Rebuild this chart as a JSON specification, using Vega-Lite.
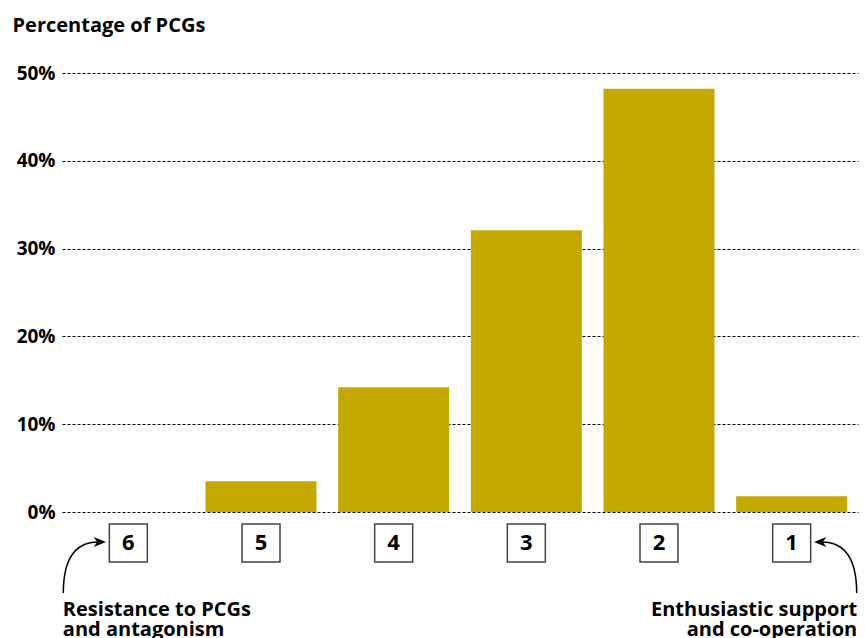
{
  "$schema": "https://vega.github.io/schema/vega-lite/v6.json",
  "width": 796,
  "height": 439,
  "autosize": {"type": "none"},
  "padding": {"left": 62, "top": 73, "right": 7, "bottom": 126},
  "background": "white",
  "config": {"view": {"stroke": null}, "font": "Open Sans"},
  "datasets": {
    "bars": [
      {"cat": "6", "pct": 0},
      {"cat": "5", "pct": 3.5},
      {"cat": "4", "pct": 14.2},
      {"cat": "3", "pct": 32.1},
      {"cat": "2", "pct": 48.2},
      {"cat": "1", "pct": 1.8}
    ],
    "notes": [
      {"cat": "6", "side": "left", "note": "Resistance to PCGs\nand antagonism"},
      {"cat": "1", "side": "right", "note": "Enthusiastic support\nand co-operation"}
    ]
  },
  "resolve": {"scale": {"shape": "independent"}},
  "layer": [
    {
      "data": {"name": "bars"},
      "mark": {"type": "bar", "color": "#c4a900"},
      "encoding": {
        "x": {"field": "cat", "type": "nominal", "sort": ["6", "5", "4", "3", "2", "1"],
              "scale": {"paddingInner": 0.163, "paddingOuter": 0.0815}, "axis": null},
        "y": {"field": "pct", "type": "quantitative",
              "scale": {"domain": [0, 50], "nice": false},
              "axis": {
                "values": [0, 10, 20, 30, 40, 50],
                "labelExpr": "datum.value + '%'",
                "labelFontSize": 19, "labelFontWeight": "bold", "labelColor": "black",
                "labelPadding": 7, "ticks": false, "domain": false,
                "grid": true, "gridColor": "black", "gridDash": [3, 2], "gridWidth": 1, "gridOpacity": 1,
                "title": "Percentage of PCGs", "titleAngle": 0, "titleAlign": "left",
                "titleBaseline": "alphabetic", "titleX": -50, "titleY": -42,
                "titleFontSize": 20, "titleFontWeight": "bold", "titleColor": "black"
              }}
      }
    },
    {
      "mark": {"type": "rule", "strokeWidth": 2.5, "color": "black"},
      "encoding": {"y": {"datum": 0}}
    },
    {
      "data": {"name": "bars"},
      "mark": {"type": "square", "size": 1444, "filled": true, "fill": "white", "stroke": "#444", "strokeWidth": 1.5, "opacity": 1},
      "encoding": {
        "x": {"field": "cat", "type": "nominal", "sort": ["6", "5", "4", "3", "2", "1"]},
        "y": {"datum": 0},
        "yOffset": {"value": 31}
      }
    },
    {
      "data": {"name": "bars"},
      "mark": {"type": "text", "fontSize": 22, "fontWeight": "bold", "color": "black", "baseline": "middle", "align": "center"},
      "encoding": {
        "x": {"field": "cat", "type": "nominal", "sort": ["6", "5", "4", "3", "2", "1"]},
        "y": {"datum": 0},
        "yOffset": {"value": 31},
        "text": {"field": "cat"}
      }
    },
    {
      "data": {"name": "notes"},
      "mark": {"type": "point", "size": 3600, "filled": false, "fill": null, "stroke": "black", "strokeWidth": 1.5, "opacity": 1},
      "encoding": {
        "x": {"field": "cat", "type": "nominal", "sort": ["6", "5", "4", "3", "2", "1"]},
        "y": {"datum": 0},
        "yOffset": {"value": 53},
        "shape": {"field": "side", "type": "nominal", "legend": null,
                  "scale": {"domain": ["left", "right"],
                            "range": ["M -2.167 0.933 C -2.167 -0.167 -1.8 -0.767 -1.0 -0.767",
                                      "M 2.167 0.933 C 2.167 -0.167 1.8 -0.767 1.0 -0.767"]}}
      }
    },
    {
      "data": {"name": "notes"},
      "mark": {"type": "point", "size": 3600, "filled": true, "fill": "black", "stroke": "black", "strokeWidth": 0.5, "opacity": 1},
      "encoding": {
        "x": {"field": "cat", "type": "nominal", "sort": ["6", "5", "4", "3", "2", "1"]},
        "y": {"datum": 0},
        "yOffset": {"value": 53},
        "shape": {"field": "side", "type": "nominal", "legend": null,
                  "scale": {"domain": ["left", "right"],
                            "range": ["M -0.767 -0.767 L -1.133 -0.917 L -1.033 -0.767 L -1.133 -0.617 Z",
                                      "M 0.767 -0.767 L 1.133 -0.917 L 1.033 -0.767 L 1.133 -0.617 Z"]}}
      }
    },
    {
      "data": {"name": "notes"},
      "transform": [{"filter": "datum.side === 'left'"}],
      "mark": {"type": "text", "fontSize": 20, "fontWeight": "bold", "color": "black", "align": "left",
               "baseline": "alphabetic", "lineBreak": "\n", "lineHeight": 20, "dx": -65.5},
      "encoding": {
        "x": {"field": "cat", "type": "nominal", "sort": ["6", "5", "4", "3", "2", "1"]},
        "y": {"datum": 0},
        "yOffset": {"value": 104},
        "text": {"field": "note"}
      }
    },
    {
      "data": {"name": "notes"},
      "transform": [{"filter": "datum.side === 'right'"}],
      "mark": {"type": "text", "fontSize": 20, "fontWeight": "bold", "color": "black", "align": "right",
               "baseline": "alphabetic", "lineBreak": "\n", "lineHeight": 20, "dx": 65.5},
      "encoding": {
        "x": {"field": "cat", "type": "nominal", "sort": ["6", "5", "4", "3", "2", "1"]},
        "y": {"datum": 0},
        "yOffset": {"value": 104},
        "text": {"field": "note"}
      }
    }
  ]
}
